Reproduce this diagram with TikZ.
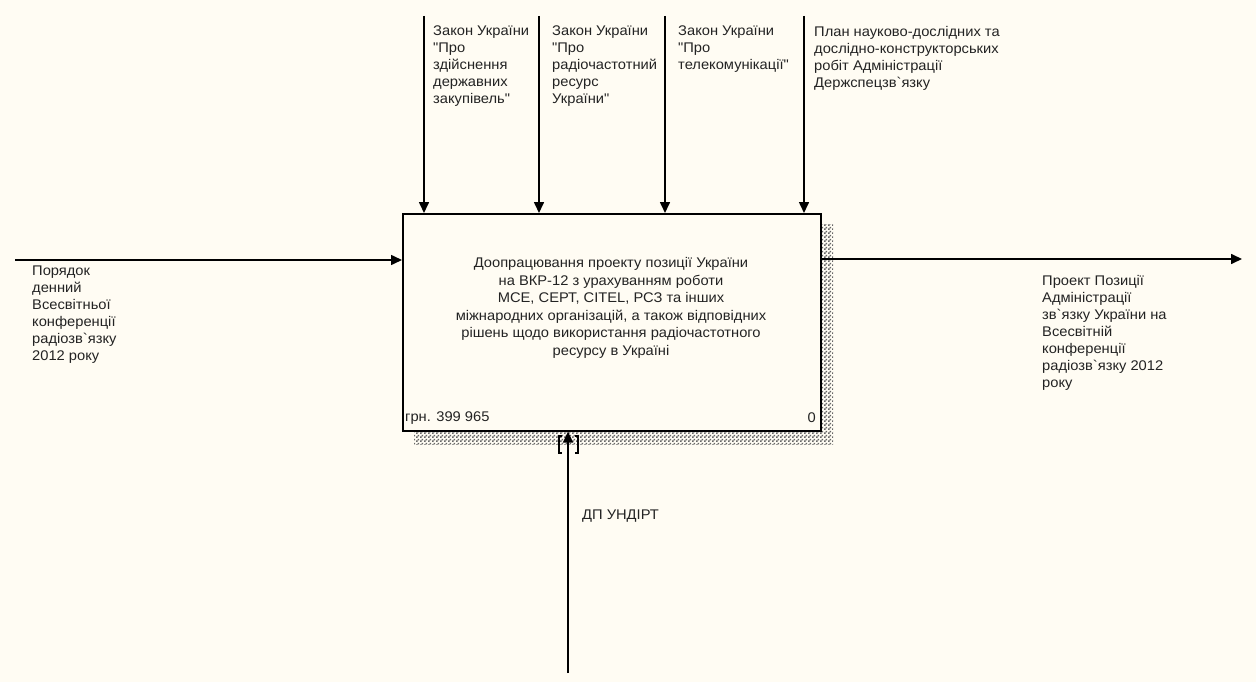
\documentclass[tikz,border=0pt]{standalone}
\usepackage{fontspec}
\newfontfamily\lab{Liberation Sans}[FakeStretch=1.05]
\usetikzlibrary{arrows.meta,patterns}
\pgfdeclarepatternformonly{shadowdots}{\pgfqpoint{0pt}{0pt}}{\pgfqpoint{4pt}{4pt}}{\pgfqpoint{4pt}{4pt}}{%
  \pgfpathrectangle{\pgfqpoint{0pt}{0pt}}{\pgfqpoint{1.9pt}{1.9pt}}%
  \pgfpathrectangle{\pgfqpoint{2pt}{2pt}}{\pgfqpoint{1.9pt}{1.9pt}}%
  \pgfusepath{fill}}
\definecolor{bg}{RGB}{255,252,243}
\definecolor{ink}{RGB}{35,35,35}
\begin{document}
\begin{tikzpicture}[x=1pt,y=-1pt,
  lbl/.style={anchor=north west,inner sep=0pt,align=left,text=ink,font=\lab\fontsize{14}{17}\selectfont},
  arr/.style={line width=1.6pt,-{Triangle[length=11pt,width=10pt]}},
  conn/.style={line width=1.3pt}]
\fill[bg] (0,0) rectangle (1256,682);
\useasboundingbox (0,0) rectangle (1256,682);
% shadow
\fill[pattern=shadowdots,pattern color=black!60] (414,224) rectangle (833,444);
% box
\node[draw,line width=1.6pt,fill=bg,minimum width=418pt,minimum height=217pt,anchor=north west,inner sep=0pt] (box) at (402,213) {};
\node[anchor=center,align=center,text=ink,font=\lab\fontsize{14}{17.5}\selectfont] (boxtxt) at (611,308)
 {Доопрацювання проекту позиції України\\на ВКР-12 з урахуванням роботи\\МСЕ, СЕРТ, CITEL, РСЗ та інших\\міжнародних організацій, а також відповідних\\рішень щодо використання радіочастотного\\ресурсу в Україні};
\node[lbl,anchor=west] (cost) at (405,418) {грн. 399 965};
\node[lbl,anchor=east] (num) at (816,418) {0};
% controls
\coordinate (c1) at (424,16);
\coordinate (c2) at (539,16);
\coordinate (c3) at (665,16);
\coordinate (c4) at (804,16);
\draw[arr] (c1) -- (c1 |- box.north);
\draw[arr] (c2) -- (c2 |- box.north);
\draw[arr] (c3) -- (c3 |- box.north);
\draw[arr] (c4) -- (c4 |- box.north);
\node[lbl] (l1) at (433,26) {Закон України\\"Про\\здійснення\\державних\\закупівель"};
\node[lbl] (l2) at (552,26) {Закон України\\"Про\\радіочастотний\\ресурс\\України"};
\node[lbl] (l3) at (678,26) {Закон України\\"Про\\телекомунікації"};
\node[lbl] (l4) at (814,26) {План науково-дослідних та\\дослідно-конструкторських\\робіт Адміністрації\\Держспецзв`язку};
% input
\coordinate (in) at (15,260);
\draw[arr] (in) -- (in -| box.west);
\node[lbl] (lin) at (32,266) {Порядок\\денний\\Всесвітньої\\конференції\\радіозв`язку\\2012 року};
% output
\coordinate (out) at (1242,259);
\draw[arr] (out -| box.east) -- (out);
\node[lbl] (lout) at (1042,275) {Проект Позиції\\Адміністрації\\зв`язку України на\\Всесвітній\\конференції\\радіозв`язку 2012\\року};
% mechanism
\coordinate (mech) at (568,673);
\draw[arr] (mech) -- (mech |- box.south);
\node[lbl,anchor=west] (lmech) at (582,516) {ДП УНДІРТ};
% tunnel brackets
\draw[conn] (562,436) -- (559,436) -- (559,453) -- (562,453);
\draw[conn] (575,436) -- (578,436) -- (578,453) -- (575,453);
\end{tikzpicture}
\end{document}
